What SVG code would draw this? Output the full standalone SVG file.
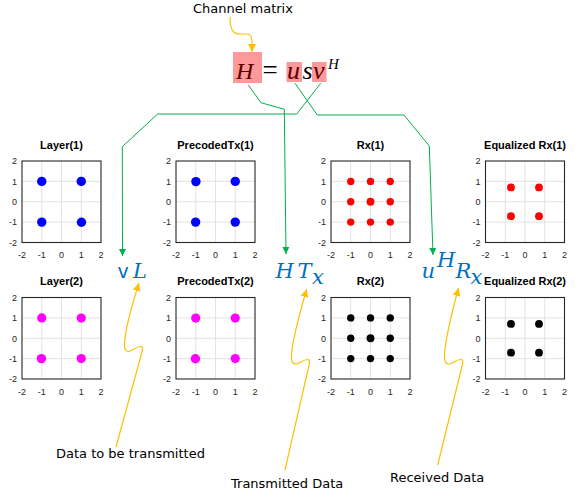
<svg xmlns="http://www.w3.org/2000/svg" xmlns:xlink="http://www.w3.org/1999/xlink" width="578" height="501" viewBox="0 0 578 501">
<style>
.grid line{stroke:#dcdcdc;stroke-width:0.8}
.box{fill:none;stroke:#262626;stroke-width:1.1}
.title{font-family:"Liberation Sans",Arial,sans-serif;font-size:11px;font-weight:bold;fill:#000;text-anchor:middle}
.yt text{font-family:"Liberation Sans",Arial,sans-serif;font-size:9px;fill:#262626;text-anchor:end}
.xt text{font-family:"Liberation Sans",Arial,sans-serif;font-size:9px;fill:#262626;text-anchor:middle}
.note{font-family:"DejaVu Sans",Verdana,sans-serif;font-size:13px;fill:#000}
.eq{font-family:"Liberation Serif","Times New Roman",serif;font-style:italic}
.bl{font-family:"DejaVu Serif","Liberation Serif",serif;font-style:italic;fill:#0070c0;font-size:21px}
.gr{fill:none;stroke:#00b050;stroke-width:1}
.ye{fill:none;stroke:#ffc000;stroke-width:1.2}
.blue{fill:#0000ff}.mag{fill:#ff00ff}.red{fill:#ff0000}.blk{fill:#000}
</style>
<defs>
<g id="frame">
<g class="grid">
<line x1="19.75" y1="0" x2="19.75" y2="81.5"/><line x1="39.5" y1="0" x2="39.5" y2="81.5"/><line x1="59.25" y1="0" x2="59.25" y2="81.5"/>
<line x1="0" y1="20.375" x2="79" y2="20.375"/><line x1="0" y1="40.75" x2="79" y2="40.75"/><line x1="0" y1="61.125" x2="79" y2="61.125"/>
</g>
<rect width="79" height="81.5" class="box"/>
</g>
<marker id="ga" markerWidth="7" markerHeight="7" refX="7" refY="3.5" orient="auto" markerUnits="userSpaceOnUse"><path d="M0,0 L7,3.5 L0,7 Z" fill="#00b050"/></marker>
<marker id="ya" markerWidth="8" markerHeight="8" refX="8" refY="4" orient="auto" markerUnits="userSpaceOnUse"><path d="M0,0 L8,4 L0,8 Z" fill="#ffc000"/></marker>
</defs>
<rect width="578" height="501" fill="#fff"/>

<g id="layer1" transform="translate(22,161)">
<use xlink:href="#frame" href="#frame"/>
<text class="title" x="39.5" y="-12.5">Layer(1)</text>
<g class="yt"><text x="-5" y="3.2">2</text><text x="-5" y="23.6">1</text><text x="-5" y="44">0</text><text x="-5" y="64.3">-1</text><text x="-5" y="84.7">-2</text></g>
<g class="xt"><text x="0" y="97">-2</text><text x="19.75" y="97">-1</text><text x="39.5" y="97">0</text><text x="59.25" y="97">1</text><text x="79" y="97">2</text></g>
<g class="blue"><circle cx="19.75" cy="20.4" r="4.7"/><circle cx="59.25" cy="20.4" r="4.7"/><circle cx="19.75" cy="61.1" r="4.7"/><circle cx="59.5" cy="61.3" r="4.7"/></g>
</g>

<g id="precoded1" transform="translate(176,161)">
<use xlink:href="#frame" href="#frame"/>
<text class="title" x="39.5" y="-12.5">PrecodedTx(1)</text>
<g class="yt"><text x="-5" y="3.2">2</text><text x="-5" y="23.6">1</text><text x="-5" y="44">0</text><text x="-5" y="64.3">-1</text><text x="-5" y="84.7">-2</text></g>
<g class="xt"><text x="0" y="97">-2</text><text x="19.75" y="97">-1</text><text x="39.5" y="97">0</text><text x="59.25" y="97">1</text><text x="79" y="97">2</text></g>
<g class="blue"><circle cx="19.9" cy="20.6" r="4.7"/><circle cx="59.25" cy="20.4" r="4.7"/><circle cx="19.6" cy="61.1" r="4.7"/><circle cx="59.25" cy="61.1" r="4.7"/></g>
</g>

<g id="rx1" transform="translate(331,161)">
<use xlink:href="#frame" href="#frame"/>
<text class="title" x="39.5" y="-12.5">Rx(1)</text>
<g class="yt"><text x="-5" y="3.2">2</text><text x="-5" y="23.6">1</text><text x="-5" y="44">0</text><text x="-5" y="64.3">-1</text><text x="-5" y="84.7">-2</text></g>
<g class="xt"><text x="0" y="97">-2</text><text x="19.75" y="97">-1</text><text x="39.5" y="97">0</text><text x="59.25" y="97">1</text><text x="79" y="97">2</text></g>
<g class="red">
<circle cx="19.75" cy="20.4" r="3.7"/><circle cx="39.5" cy="20.4" r="3.7"/><circle cx="59.25" cy="20.4" r="3.7"/>
<circle cx="19.75" cy="40.75" r="3.7"/><circle cx="39.5" cy="40.75" r="3.9"/><circle cx="59.25" cy="40.75" r="3.7"/>
<circle cx="19.75" cy="61.1" r="3.7"/><circle cx="39.5" cy="61.1" r="3.7"/><circle cx="59.25" cy="61.1" r="3.7"/>
</g>
</g>

<g id="eqrx1" transform="translate(485.5,161)">
<use xlink:href="#frame" href="#frame"/>
<text class="title" x="39.5" y="-12.5">Equalized Rx(1)</text>
<g class="yt"><text x="-5" y="3.2">2</text><text x="-5" y="23.6">1</text><text x="-5" y="44">0</text><text x="-5" y="64.3">-1</text><text x="-5" y="84.7">-2</text></g>
<g class="xt"><text x="0" y="97">-2</text><text x="19.75" y="97">-1</text><text x="39.5" y="97">0</text><text x="59.25" y="97">1</text><text x="79" y="97">2</text></g>
<g class="red"><circle cx="25.5" cy="26.4" r="3.9"/><circle cx="53.5" cy="26.4" r="3.9"/><circle cx="25.5" cy="55.2" r="3.9"/><circle cx="53.5" cy="55.2" r="3.9"/></g>
</g>

<g id="layer2" transform="translate(22,297.5)">
<use xlink:href="#frame" href="#frame"/>
<text class="title" x="39.5" y="-12.5">Layer(2)</text>
<g class="yt"><text x="-5" y="3.2">2</text><text x="-5" y="23.6">1</text><text x="-5" y="44">0</text><text x="-5" y="64.3">-1</text><text x="-5" y="84.7">-2</text></g>
<g class="xt"><text x="0" y="97">-2</text><text x="19.75" y="97">-1</text><text x="39.5" y="97">0</text><text x="59.25" y="97">1</text><text x="79" y="97">2</text></g>
<g class="mag"><circle cx="19.75" cy="20.4" r="4.6"/><circle cx="59.25" cy="20.6" r="4.6"/><circle cx="19.4" cy="61.1" r="4.7"/><circle cx="59.25" cy="61.1" r="4.6"/></g>
</g>

<g id="precoded2" transform="translate(176,297.5)">
<use xlink:href="#frame" href="#frame"/>
<text class="title" x="39.5" y="-12.5">PrecodedTx(2)</text>
<g class="yt"><text x="-5" y="3.2">2</text><text x="-5" y="23.6">1</text><text x="-5" y="44">0</text><text x="-5" y="64.3">-1</text><text x="-5" y="84.7">-2</text></g>
<g class="xt"><text x="0" y="97">-2</text><text x="19.75" y="97">-1</text><text x="39.5" y="97">0</text><text x="59.25" y="97">1</text><text x="79" y="97">2</text></g>
<g class="mag"><circle cx="19.75" cy="20.6" r="4.6"/><circle cx="59.25" cy="20.6" r="4.6"/><circle cx="19.4" cy="61.3" r="4.7"/><circle cx="59.25" cy="61.1" r="4.6"/></g>
</g>

<g id="rx2" transform="translate(331,297.5)">
<use xlink:href="#frame" href="#frame"/>
<text class="title" x="39.5" y="-12.5">Rx(2)</text>
<g class="yt"><text x="-5" y="3.2">2</text><text x="-5" y="23.6">1</text><text x="-5" y="44">0</text><text x="-5" y="64.3">-1</text><text x="-5" y="84.7">-2</text></g>
<g class="xt"><text x="0" y="97">-2</text><text x="19.75" y="97">-1</text><text x="39.5" y="97">0</text><text x="59.25" y="97">1</text><text x="79" y="97">2</text></g>
<g class="blk">
<circle cx="19.75" cy="20.4" r="3.7"/><circle cx="39.5" cy="20.4" r="3.7"/><circle cx="59.25" cy="20.4" r="3.7"/>
<circle cx="19.75" cy="40.75" r="3.7"/><circle cx="39.5" cy="40.75" r="3.9"/><circle cx="59.25" cy="40.75" r="3.7"/>
<circle cx="19.75" cy="61.1" r="3.7"/><circle cx="39.5" cy="61.1" r="3.7"/><circle cx="59.25" cy="61.1" r="3.7"/>
</g>
</g>

<g id="eqrx2" transform="translate(485.5,297.5)">
<use xlink:href="#frame" href="#frame"/>
<text class="title" x="39.5" y="-12.5">Equalized Rx(2)</text>
<g class="yt"><text x="-5" y="3.2">2</text><text x="-5" y="23.6">1</text><text x="-5" y="44">0</text><text x="-5" y="64.3">-1</text><text x="-5" y="84.7">-2</text></g>
<g class="xt"><text x="0" y="97">-2</text><text x="19.75" y="97">-1</text><text x="39.5" y="97">0</text><text x="59.25" y="97">1</text><text x="79" y="97">2</text></g>
<g class="blk"><circle cx="25.5" cy="26.4" r="3.9"/><circle cx="53.5" cy="26.4" r="3.9"/><circle cx="25.5" cy="55.2" r="3.9"/><circle cx="53.5" cy="55.2" r="3.9"/></g>
</g>

<g id="formula">
<rect x="233" y="52" width="29" height="31" fill="#ff9999"/>
<rect x="286.5" y="62" width="15.5" height="20" fill="#ff9999"/>
<rect x="312" y="62" width="14.5" height="20" fill="#ff9999"/>
<text class="eq" y="78.5"><tspan x="236" font-size="24" fill="#5a0000">H</tspan><tspan x="262.5" font-size="27" font-style="normal" fill="#000">=</tspan><tspan x="287" font-size="26" fill="#5a0000">u</tspan><tspan x="302.5" font-size="26" fill="#000">s</tspan><tspan x="313" font-size="26" fill="#5a0000">v</tspan></text>
<text class="eq" font-size="15" x="328" y="68.5" fill="#000">H</text>
</g>

<g id="labels">
<text x="193" y="13" class="note">Channel matrix</text>
<text x="56" y="458" class="note">Data to be transmitted</text>
<text x="231" y="488" class="note">Transmitted Data</text>
<text x="390" y="481.5" class="note">Received Data</text>
<text x="117.5" y="278" font-family="DejaVu Sans,Verdana,sans-serif" font-size="19" fill="#0070c0">v</text>
<text x="133" y="278" class="bl">L</text>
<text x="275.5" y="278" class="bl">H</text>
<text x="297.5" y="278" class="bl">T</text>
<text x="312" y="283.5" class="bl" font-size="14">x</text>
<text x="421.5" y="278" class="bl">u</text>
<text x="437" y="267" class="bl" font-size="13">H</text>
<text x="455.5" y="278" class="bl">R</text>
<text x="470.5" y="283.5" class="bl" font-size="14">x</text>
</g>

<g id="connectors">
<path class="gr" d="M320.7,83.3 L296.7,114 L157.7,114 L122.3,146.7 L122.5,256" marker-end="url(#ga)"/>
<path class="gr" d="M248.3,85 L261,102.7 L284.3,109.3 L286,254" marker-end="url(#ga)"/>
<path class="gr" d="M295,83.3 L317.3,115 L404,115 L429.3,146 L433,255" marker-end="url(#ga)"/>
<path class="ye" d="M230,17 C230,30 233,34 240,34 L247,34 C251,34 252,37 252,42 L252,52" marker-end="url(#ya)"/>
<path class="ye" d="M116,447 L142.5,350 C143.5,345 139,346 134,349 C128,353 124,352 124.5,344 C125,328 132,305 139,283" marker-end="url(#ya)"/>
<path class="ye" d="M285,470 L309.5,363 C310.5,358 306,359 301,362 C295,366 291,364 291.5,356 C292,340 300,312 306.7,289" marker-end="url(#ya)"/>
<path class="ye" d="M437.7,465 L462.8,363 C463.8,358 459,359 454,362 C448,366 444,364 444.5,356 C445,340 452,312 458.5,288" marker-end="url(#ya)"/>
</g>
</svg>
